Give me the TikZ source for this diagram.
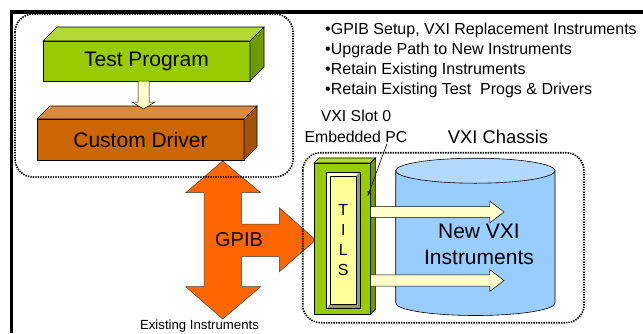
\documentclass[tikz,border=0pt]{standalone}
\usepackage{fontspec}
\setmainfont{Liberation Sans}
\usepackage{tikz}
\usetikzlibrary{calc,shapes,arrows,positioning}

\definecolor{leafgreen}{HTML}{99CC00}
\definecolor{leaftop}{HTML}{B2D936}
\definecolor{leafside}{HTML}{6E9900}
\definecolor{rust}{HTML}{CC6600}
\definecolor{rusttop}{HTML}{D98A3D}
\definecolor{rustside}{HTML}{A3520A}
\definecolor{gpiborange}{HTML}{FF6600}
\definecolor{paleyellow}{HTML}{FFFFCC}
\definecolor{tilsyellow}{HTML}{FFFF99}
\definecolor{bevel}{HTML}{999966}
\definecolor{chassisblue}{HTML}{99CCFF}
\definecolor{chassistop}{HTML}{B3D9FF}

% top and right faces of a box node
\newcommand\slabfaces[4]{%
  \filldraw[fill=#3, line width=0.6pt] (#1.north west) -- ++(#2,#2) -- ($(#1.north east)+(#2,#2)$) -- (#1.north east) -- cycle;
  \filldraw[fill=#4, line width=0.6pt] (#1.north east) -- ++(#2,#2) -- ($(#1.south east)+(#2,#2)$) -- (#1.south east) -- cycle;}

% fat arrow: style, from, to, half shaft, half head, head length
\newcommand\fatarrow[6]{%
  \coordinate (fa-h) at ($(#3)!#6!(#2)$);
  \filldraw[#1] ($(#2)!#4!90:(#3)$) -- ($(fa-h)!#4!-90:(#2)$) -- ($(fa-h)!#5!-90:(#2)$) -- (#3)
    -- ($(fa-h)!#5!90:(#2)$) -- ($(fa-h)!#4!90:(#2)$) -- ($(#2)!#4!-90:(#3)$) -- cycle;}

\begin{document}
\begin{tikzpicture}[x=1pt, y=1pt,
    slab/.style={draw=black, line width=0.6pt, inner sep=0pt, outer sep=0pt,
      font=\fontsize{21}{24}\selectfont},
    group/.style={draw=black, line width=1.6pt, dash pattern=on 1.4pt off 1.1pt,
      rounded corners=18pt},
    blockarrow/.style={draw=black, line width=0.5pt, fill=paleyellow},
    label/.style={inner sep=0pt, outer sep=0pt, align=center}]
  \useasboundingbox (0,0) rectangle (643,-333);

  \draw[line width=3.5pt] (11.5,-333) -- (11.5,-12) -- (643,-12);

  % host side
  \node[slab, fill=leafgreen, minimum width=207, minimum height=40] (prog) at (146.5,-61) {Test Program};
  \slabfaces{prog}{14}{leaftop}{leafside}
  \node[slab, fill=rust, minimum width=207, minimum height=41] (driver) at (140.5,-139.5) {Custom Driver};
  \slabfaces{driver}{13}{rusttop}{rustside}
  \coordinate (feed) at ($(prog.south)+(-3,0)$);
  \coordinate (feedtip) at ($(driver.north)+(3,10)$);
  \fatarrow{blockarrow}{feed}{feedtip}{5.5pt}{11.5pt}{7pt}

  % GPIB cross
  \filldraw[fill=gpiborange, draw=black!75, line width=0.5pt]
    (222.7,-161) -- (260.7,-192.7) -- (241.7,-192.7) -- (241.7,-224) -- (279.3,-224)
    -- (279.3,-207.7) -- (315.7,-240) -- (279.3,-271.7) -- (279.3,-256.7) -- (241.7,-256.7)
    -- (241.7,-286.7) -- (260.7,-286.7) -- (222.7,-319) -- (185.7,-286.7) -- (204,-286.7)
    -- (204,-192.7) -- (185.7,-192.7) -- cycle;
  \node[label, font=\fontsize{20}{24}\selectfont] (gpib) at (239,-239.5) {GPIB};
  \node[label, font=\fontsize{13.2}{16}\selectfont, anchor=base] (existing) at (199.5,-329) {Existing Instruments};

  % VXI chassis
  \filldraw[fill=chassisblue, line width=0.6pt] (395.7,-170.7) -- (395.7,-303)
    arc[start angle=180, end angle=360, x radius=79.65, y radius=12.5] -- (555,-170.7) -- cycle;
  \filldraw[fill=chassistop, line width=0.6pt] (475.35,-170.7) ellipse[x radius=79.65, y radius=12.5];
  \node[label, font=\fontsize{21}{26}\selectfont] (vxi) at (479,-244.6) {New VXI\\Instruments};

  % slot 0 card
  \node[slab, fill=leafgreen, minimum width=56.7, minimum height=151] (card) at (342.3,-238.5) {};
  \slabfaces{card}{5}{leaftop}{leafside}
  \node[draw, line width=0.4pt, fill=paleyellow, inner sep=0pt, outer sep=0pt,
    minimum width=33.3, minimum height=136] (panel) at (343.3,-240) {};
  \fill[bevel] (panel.north east) -- (panel.south east) -- (panel.south west) -- ($(panel.south west)+(4,4)$)
    -- ($(panel.south east)+(-4,4)$) -- ($(panel.north east)+(-4,-4)$) -- cycle;
  \node[draw, line width=0.4pt, fill=tilsyellow, inner sep=0pt, align=center,
    minimum width=25.3, minimum height=128, font=\fontsize{16}{20}\selectfont] (tils) at (panel) {T\\I\\L\\S};
  \draw[line width=0.4pt] (panel.north west) rectangle (panel.south east);

  \coordinate (busA) at ($(card.east)+(0,26.5)$);
  \coordinate (busB) at ($(card.east)+(0,-42)$);
  \fatarrow{blockarrow}{busA}{$(busA)+(133.3,0)$}{5.6pt}{10.8pt}{14pt}
  \fatarrow{blockarrow}{busB}{$(busB)+(133.3,0)$}{5.6pt}{10.8pt}{14pt}

  \node[label, font=\fontsize{15.8}{20.7}\selectfont, anchor=south] (slot) at (356,-142.7) {VXI Slot 0\\Embedded PC};
  \draw[-latex, line width=0.6pt] ($(slot.south)+(31,-1)$) -- ($(card.north east)+(-3,-33)$);
  \node[label, font=\fontsize{18.4}{22}\selectfont, anchor=base] (chassis) at (498,-143) {VXI Chassis};

  \node[inner sep=0pt, anchor=north west, align=left, font=\fontsize{16}{20}\selectfont] (notes) at (325,-23)
    {\textbullet GPIB Setup, VXI Replacement Instruments\\
     \textbullet Upgrade Path to New Instruments\\
     \textbullet Retain Existing Instruments\\
     \textbullet Retain Existing Test\ \ Progs \& Drivers};

  % dotted groupings
  \draw[group] (15,-14) rectangle (293,-177);
  \draw[group] (302.7,-152.7) rectangle (584,-322.7);
\end{tikzpicture}
\end{document}
